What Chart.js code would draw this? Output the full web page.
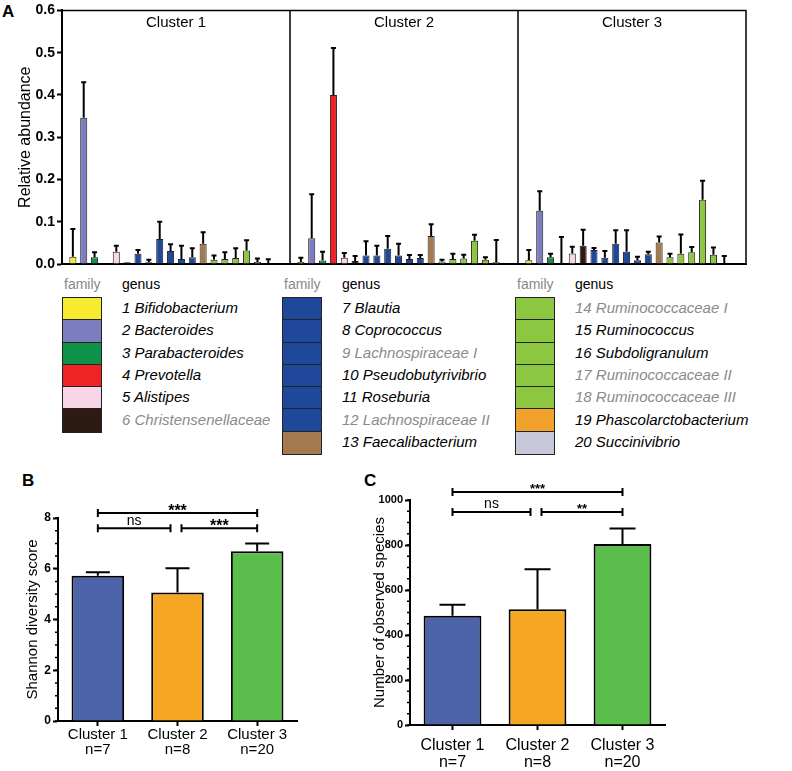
<!DOCTYPE html>
<html>
<head>
<meta charset="utf-8">
<script src="https://cdn.jsdelivr.net/npm/chart.js@4.4.0/dist/chart.umd.min.js"></script>
<style>
  body { margin:0; width:792px; height:771px; background:#fff; position:relative; overflow:hidden;
         font-family:'Liberation Sans', Arial, sans-serif; color:#000; }
  .wrap { position:absolute; }
  .tag { position:absolute; font-weight:bold; font-size:17px; line-height:17px; }
  .hdr { position:absolute; font-size:14px; line-height:16px; top:276px; }
  .famBox { position:absolute; top:297px; width:40px; box-sizing:border-box; border:1.5px solid #222; }
  .famBox div { box-sizing:border-box; border-bottom:1.5px solid #222; }
  .famBox div:last-child { border-bottom:none; }
  .gen { position:absolute; font-style:italic; font-size:15px; white-space:nowrap; }
</style>
</head>
<body>
<div class="tag" style="left:2px;top:3px;">A</div>
<div class="tag" style="left:22px;top:472px;">B</div>
<div class="tag" style="left:364px;top:472px;">C</div>

<div class="wrap" style="left:0;top:0;width:770px;height:275px;"><canvas id="chartA"></canvas></div>
<div id="legend"></div>
<div class="wrap" style="left:0;top:470px;width:310px;height:301px;"><canvas id="chartB"></canvas></div>
<div class="wrap" style="left:370px;top:455px;width:310px;height:316px;"><canvas id="chartC"></canvas></div>

<script>
Chart.defaults.font.family = "'Liberation Sans', Arial, sans-serif";
Chart.defaults.color = '#000';

// ---- panel A data ----
const genera = ['Bifidobacterium', 'Bacteroides', 'Parabacteroides', 'Prevotella', 'Alistipes',
  'Christensenellaceae', 'Blautia', 'Coprococcus', 'Lachnospiraceae I', 'Pseudobutyrivibrio',
  'Roseburia', 'Lachnospiraceae II', 'Faecalibacterium', 'Ruminococcaceae I', 'Ruminococcus',
  'Subdoligranulum', 'Ruminococcaceae II', 'Ruminococcaceae III', 'Phascolarctobacterium', 'Succinivibrio'];
const familyColors = ['#f6eb2f', '#7c7dbe', '#0f9147', '#ee2326', '#f9d6e6', '#2d1a12',
  '#1f479a', '#1f479a', '#1f479a', '#1f479a', '#1f479a', '#1f479a', '#a67a4f',
  '#8dc641', '#8dc641', '#8dc641', '#8dc641', '#8dc641', '#f0a22a', '#c6c7d9'];
const unclassified = [6, 9, 12, 14, 17, 18];
const clusterNames = ['Cluster 1', 'Cluster 2', 'Cluster 3'];

const c1Mean = [0.017, 0.346, 0.016, 0, 0.029, 0.004, 0.024, 0.004, 0.059, 0.031,
                0.012, 0.016, 0.048, 0.010, 0.012, 0.014, 0.032, 0.005, 0.001, 0];
const c1Sd   = [0.066, 0.084, 0.012, 0, 0.014, 0, 0.009, 0.006, 0.041, 0.016,
                0.031, 0.021, 0.027, 0.010, 0.016, 0.023, 0.024, 0.008, 0.010, 0];
const c2Mean = [0.005, 0.061, 0.008, 0.400, 0.015, 0.007, 0.020, 0.020, 0.036, 0.020,
                0.012, 0.014, 0.066, 0.006, 0.012, 0.013, 0.055, 0.010, 0.004, 0];
const c2Sd   = [0.010, 0.104, 0.021, 0.111, 0.011, 0.012, 0.034, 0.023, 0.030, 0.028,
                0.009, 0.007, 0.028, 0.004, 0.012, 0.009, 0.014, 0.006, 0.053, 0];
const c3Mean = [0.009, 0.126, 0.016, 0, 0.025, 0.043, 0.033, 0.015, 0.048, 0.029,
                0.009, 0.023, 0.051, 0.016, 0.024, 0.028, 0.152, 0.022, 0.001, 0];
const c3Sd   = [0.024, 0.046, 0.008, 0.064, 0.016, 0.038, 0.005, 0.016, 0.032, 0.051,
                0.008, 0.006, 0.014, 0.008, 0.046, 0.012, 0.045, 0.017, 0.018, 0];
const yTicksA = [0, 0.1, 0.2, 0.3, 0.4, 0.5, 0.6];

// ---- panels B / C data ----
const nCounts = [7, 8, 20];
const clusterColors = ['#4c63a9', '#f5a623', '#5bbd4c'];
const shannonMean = [5.72, 5.06, 6.69];
const shannonSd = [0.14, 0.96, 0.31];
const speciesMean = [486, 514, 804];
const speciesSd = [49, 178, 69];
const sigB = [{a: 0, b: 2, y: 8.2, text: '***'}, {a: 0, b: 1, y: 7.6, text: 'ns'}, {a: 1, b: 2, y: 7.6, text: '***'}];
const sigC = [{a: 0, b: 2, y: 1036, text: '***'}, {a: 0, b: 1, y: 947, text: 'ns'}, {a: 1, b: 2, y: 947, text: '**'}];

// slots: gap, 20 genera, gap, 20 genera, gap, 20 genera, gap
const slotMean = [null], slotSd = [0], slotColor = ['#fff'], slotLabel = [''];
const bounds = [0];
[[c1Mean, c1Sd], [c2Mean, c2Sd], [c3Mean, c3Sd]].forEach(([m, s], k) => {
  m.forEach((v, i) => {
    slotMean.push(v); slotSd.push(s[i]); slotColor.push(familyColors[i]);
    slotLabel.push(clusterNames[k] + ' - ' + genera[i]);
  });
  slotMean.push(null); slotSd.push(0); slotColor.push('#fff'); slotLabel.push('');
  bounds.push(slotMean.length - 1);
});

function errorBars(means, sds, cap, width) {
  return {
    id: 'errBars',
    afterDatasetsDraw(chart) {
      const ctx = chart.ctx, y = chart.scales.y;
      const meta = chart.getDatasetMeta(0);
      ctx.save();
      ctx.strokeStyle = '#000';
      ctx.lineWidth = width;
      meta.data.forEach((bar, i) => {
        if (means[i] === null || !sds[i]) return;
        const top = y.getPixelForValue(means[i] + sds[i]);
        const base = y.getPixelForValue(means[i]);
        ctx.beginPath();
        ctx.moveTo(bar.x, base);
        ctx.lineTo(bar.x, top);
        ctx.moveTo(bar.x - cap / 2, top);
        ctx.lineTo(bar.x + cap / 2, top);
        ctx.stroke();
      });
      ctx.restore();
    }
  };
}

const frameA = {
  id: 'frameA',
  afterDraw(chart) {
    const ctx = chart.ctx, a = chart.chartArea, x = chart.scales.x;
    ctx.save();
    ctx.strokeStyle = '#000';
    ctx.lineWidth = 1.5;
    ctx.beginPath();
    ctx.moveTo(a.left, a.top);
    ctx.lineTo(a.right, a.top);
    ctx.lineTo(a.right, a.bottom);
    bounds.slice(1, 3).forEach(b => {
      const px = x.getPixelForValue(b);
      ctx.moveTo(px, a.top);
      ctx.lineTo(px, a.bottom);
    });
    ctx.stroke();
    ctx.fillStyle = '#000';
    ctx.font = "15px 'Liberation Sans', Arial, sans-serif";
    ctx.textAlign = 'center';
    ctx.textBaseline = 'middle';
    clusterNames.forEach((n, k) => {
      const l = x.getPixelForValue(bounds[k]), r = x.getPixelForValue(bounds[k + 1]);
      ctx.fillText(n, (l + r) / 2, a.top + 12);
    });
    ctx.restore();
  }
};

new Chart(document.getElementById('chartA'), {
  type: 'bar',
  data: {
    labels: slotLabel,
    datasets: [{
      data: slotMean,
      backgroundColor: slotColor,
      borderColor: '#222',
      borderWidth: 1,
      barPercentage: 0.65,
      categoryPercentage: 1
    }]
  },
  options: {
    responsive: true,
    maintainAspectRatio: false,
    animation: false,
    layout: {padding: {top: 10, right: 24, bottom: 11, left: 0}},
    plugins: {legend: {display: false}, tooltip: {enabled: false}},
    scales: {
      x: {
        type: 'category',
        offset: false,
        ticks: {display: false},
        grid: {display: false},
        border: {display: true, color: '#000', width: 2},
        afterFit: s => { s.height = 0; }
      },
      y: {
        min: 0,
        max: 0.6,
        afterFit: s => { s.width = 62; },
        afterBuildTicks: s => { s.ticks = yTicksA.map(v => ({value: v})); },
        ticks: {
          font: {size: 14, weight: 'bold'},
          color: '#000',
          padding: 2,
          callback: v => Number(v).toFixed(1)
        },
        grid: {drawOnChartArea: false, tickLength: 5, tickColor: '#000', tickWidth: 2},
        border: {color: '#000', width: 2},
        title: {display: true, text: 'Relative abundance', font: {size: 16}, color: '#000', padding: {top: 16, bottom: 0}}
      }
    }
  },
  plugins: [errorBars(slotMean, slotSd, 5, 2), frameA]
});

// ---- legend ----
const legend = document.getElementById('legend');
[[0, 6, 62], [6, 13, 282], [13, 20, 515]].forEach(([s, e, left]) => {
  const rowH = 22.3;
  legend.insertAdjacentHTML('beforeend',
    `<div class="hdr" style="left:${left + 2}px;color:#888;">family</div>` +
    `<div class="hdr" style="left:${left + 60}px;">genus</div>`);
  const box = document.createElement('div');
  box.className = 'famBox';
  box.style.left = left + 'px';
  for (let i = s; i < e; i++) {
    const r = document.createElement('div');
    r.style.height = rowH + 'px';
    r.style.background = familyColors[i];
    box.appendChild(r);
    const t = document.createElement('div');
    t.className = 'gen';
    t.style.left = (left + 60) + 'px';
    t.style.top = (297 + (i - s) * rowH) + 'px';
    t.style.lineHeight = rowH + 'px';
    t.style.color = unclassified.includes(i + 1) ? '#8a8a8a' : '#000';
    t.textContent = (i + 1) + ' ' + genera[i];
    legend.appendChild(t);
  }
  legend.appendChild(box);
});

// ---- panels B and C ----
function extras(sig, minorStep, starFont, nsFont, starShift, nsShift) {
  return {
    id: 'extras',
    afterDraw(chart) {
      const ctx = chart.ctx, x = chart.scales.x, y = chart.scales.y, a = chart.chartArea;
      ctx.save();
      ctx.strokeStyle = '#000';
      ctx.fillStyle = '#000';
      ctx.lineWidth = 1.5;
      // minor ticks
      ctx.beginPath();
      for (let v = 0; v <= y.max + 1e-9; v += minorStep) {
        const py = y.getPixelForValue(v);
        ctx.moveTo(a.left, py);
        ctx.lineTo(a.left - 3, py);
      }
      ctx.stroke();
      // significance brackets
      ctx.lineWidth = 2;
      ctx.textAlign = 'center';
      ctx.textBaseline = 'alphabetic';
      sig.forEach(s => {
        const py = y.getPixelForValue(s.y);
        let l = x.getPixelForValue(s.a), r = x.getPixelForValue(s.b);
        if (s.b - s.a === 1) {
          if (s.a === 0) r -= 7; else l += 4;
        }
        ctx.beginPath();
        ctx.moveTo(l, py - 4); ctx.lineTo(l, py + 4);
        ctx.moveTo(l, py); ctx.lineTo(r, py);
        ctx.moveTo(r, py - 4); ctx.lineTo(r, py + 4);
        ctx.stroke();
        const isStar = s.text.startsWith('*');
        ctx.font = (isStar ? 'bold ' + starFont : nsFont) + "px 'Liberation Sans', Arial, sans-serif";
        ctx.fillText(s.text, (l + r) / 2, py + (isStar ? starShift : nsShift));
      });
      ctx.restore();
    }
  };
}

function groupChart(id, cfg) {
  return new Chart(document.getElementById(id), {
    type: 'bar',
    data: {
      labels: clusterNames.map((c, i) => [c, 'n=' + nCounts[i]]),
      datasets: [{
        data: cfg.means,
        backgroundColor: clusterColors,
        borderColor: '#000',
        borderWidth: 2,
        barPercentage: cfg.barPct,
        categoryPercentage: 1
      }]
    },
    options: {
      responsive: true,
      maintainAspectRatio: false,
      animation: false,
      layout: {padding: cfg.padding},
      plugins: {legend: {display: false}, tooltip: {enabled: false}},
      scales: {
        x: {
          afterFit: s => { s.height = cfg.xHeight; },
          grid: {display: true, drawOnChartArea: false, offset: false, tickLength: 5, tickColor: '#000', tickWidth: 2},
          border: {color: '#000', width: 2},
          ticks: {font: {size: cfg.xFont, lineHeight: cfg.xLine}, color: '#000', padding: cfg.xPad}
        },
        y: {
          min: 0,
          max: cfg.yMax,
          afterFit: s => { s.width = cfg.yWidth; },
          ticks: {stepSize: cfg.step, font: {size: cfg.yFont, weight: 'bold'}, color: '#000', padding: 2,
                  callback: v => String(v)},
          grid: {drawOnChartArea: false, tickLength: 5, tickColor: '#000', tickWidth: 2},
          border: {color: '#000', width: 2},
          title: {display: true, text: cfg.yTitle, font: {size: 15}, color: '#000', padding: {top: cfg.titlePad, bottom: 0}}
        }
      }
    },
    plugins: [errorBars(cfg.means, cfg.sds, cfg.cap, 2), cfg.extras]
  });
}

groupChart('chartB', {
  means: shannonMean, sds: shannonSd, barPct: 0.66, yMax: 8, step: 2, yWidth: 58, yFont: 12,
  padding: {top: 48, right: 13, left: 0, bottom: 0}, xHeight: 50, xFont: 15, xLine: 1.0, xPad: 1, cap: 24, titlePad: 24,
  yTitle: 'Shannon diversity score',
  extras: extras(sigB, 0.5, 16, 14, 3, -3)
});

groupChart('chartC', {
  means: speciesMean, sds: speciesSd, barPct: 0.68, yMax: 1000, step: 200, yWidth: 40, yFont: 11,
  padding: {top: 45, right: 15, left: 0, bottom: 0}, xHeight: 46, xFont: 16, xLine: 1.05, xPad: 7, cap: 26, titlePad: 1,
  yTitle: 'Number of observed species',
  extras: extras(sigC, 50, 13, 14, 1, -4)
});
</script>
</body>
</html>
